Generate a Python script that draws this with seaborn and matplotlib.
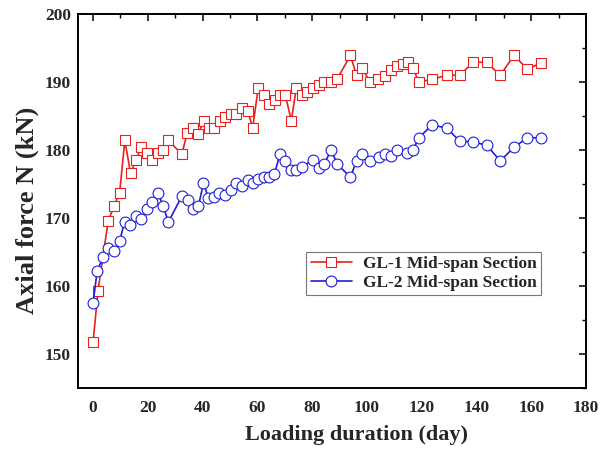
import matplotlib
matplotlib.use("Agg")
import matplotlib.pyplot as plt
from matplotlib.ticker import MultipleLocator
import seaborn as sns
import pandas as pd

# ---- data ----
gl1_day = [0, 1.8, 5.5, 7.7, 9.7, 11.6, 13.7, 15.7, 17.5, 19.6, 21.5, 23.6, 25.6, 27.5,
           32.4, 34.4, 36.4, 38.5, 40.4, 42.2, 44.2, 46.3, 48.2, 50.3, 52.2, 54.3, 56.4,
           58.3, 60.3, 62.4, 64.4, 66.3, 68.1, 70.2, 72.4, 74.2, 76.3, 78.2, 80.3, 82.5,
           84.3, 87.0, 89.2, 94.0, 96.2, 98.2, 101.1, 104.2, 106.6, 108.7, 111.0, 113.1,
           115.1, 116.8, 119.0, 123.8, 129.2, 133.9, 138.8, 143.7, 148.7, 153.7, 158.6, 163.6]
gl1_force = [151.7, 159.3, 169.5, 171.8, 173.7, 181.4, 176.6, 178.5, 180.4, 179.5, 178.5, 179.5, 180.0, 181.4,
             179.4, 182.5, 183.3, 182.4, 184.3, 183.3, 183.3, 184.3, 184.9, 185.3, 185.3, 186.2, 185.8,
             183.3, 189.1, 188.1, 186.7, 187.3, 188.1, 188.1, 184.3, 189.1, 188.1, 188.6, 189.1, 189.6,
             190.0, 190.0, 190.5, 193.9, 191.0, 192.1, 190.0, 190.5, 190.9, 191.8, 192.4, 192.6,
             193.0, 192.0, 190.0, 190.4, 191.0, 191.0, 192.9, 192.9, 191.0, 193.9, 191.9, 192.8]

gl2_day = [0, 1.5, 3.6, 5.6, 7.8, 9.7, 11.5, 13.6, 15.7, 17.6, 19.7, 21.5, 23.6, 25.6, 27.5,
           32.4, 34.5, 36.4, 38.5, 40.3, 42.1, 44.0, 46.1, 48.2, 50.3, 52.3, 54.3, 56.4, 58.3,
           60.3, 62.4, 64.4, 66.2, 68.3, 70.2, 72.3, 74.1, 76.2, 80.2, 82.5, 84.4, 86.9, 89.2,
           94.0, 96.2, 98.2, 101.0, 104.3, 106.5, 108.7, 111.1, 114.6, 116.8, 119.0, 123.8,
           129.2, 133.9, 138.8, 143.7, 148.7, 153.7, 158.6, 163.6]
gl2_force = [157.5, 162.2, 164.2, 165.6, 165.1, 166.6, 169.4, 168.9, 170.3, 169.9, 171.3, 172.3, 173.7, 171.8, 169.4,
             173.2, 172.7, 171.3, 171.8, 175.1, 173.0, 173.1, 173.7, 173.4, 174.1, 175.1, 174.7, 175.6, 175.1,
             175.7, 176.0, 176.1, 176.5, 179.4, 178.4, 177.1, 177.0, 177.5, 178.5, 177.3, 177.9, 180.0, 177.9,
             176.0, 178.4, 179.4, 178.4, 178.9, 179.4, 179.1, 180.0, 179.6, 180.0, 181.8, 183.7,
             183.2, 181.3, 181.2, 180.7, 178.4, 180.4, 181.8, 181.8]

series_names = ["GL-1 Mid-span Section", "GL-2 Mid-span Section"]
x_ticks = [0, 20, 40, 60, 80, 100, 120, 140, 160, 180]
y_ticks = [150, 160, 170, 180, 190, 200]

# ---- styling ----
sns.set_theme(style="white")
plt.rcParams["font.family"] = ["Liberation Serif", "DejaVu Serif"]
plt.rcParams["font.weight"] = "bold"

fig = plt.figure(figsize=(6.11, 4.5), dpi=100)
ax = fig.add_axes([78 / 611, 1 - 388 / 450, (586 - 78) / 611, (388 - 14) / 450])

red = "#e8201e"
blue = "#1e1ed8"

df1 = pd.DataFrame({"day": gl1_day, "force": gl1_force})
df2 = pd.DataFrame({"day": gl2_day, "force": gl2_force})

sns.lineplot(data=df1, x="day", y="force", ax=ax, color=red, lw=1.2,
             marker="s", markersize=7.2, markerfacecolor="white", markeredgecolor=red,
             markeredgewidth=0.8, label=series_names[0], sort=False)
sns.lineplot(data=df2, x="day", y="force", ax=ax, color=blue, lw=1.2,
             marker="o", markersize=7.8, markerfacecolor="white", markeredgecolor=blue,
             markeredgewidth=0.8, label=series_names[1], sort=False)

ax.set_xlim(-5.5, 180)
ax.set_ylim(145, 200)
ax.set_xticks(x_ticks)
ax.set_yticks(y_ticks)
ax.xaxis.set_minor_locator(MultipleLocator(10))
ax.yaxis.set_minor_locator(MultipleLocator(5))
ax.tick_params(which="both", direction="in", top=True, right=True, color="black")
ax.tick_params(which="major", length=5, width=1.1, labelsize=12.5)
ax.tick_params(axis="x", which="major", pad=9)
ax.tick_params(axis="y", which="major", pad=5)
ax.tick_params(which="minor", length=3, width=1.0)
for lab in ax.get_xticklabels() + ax.get_yticklabels():
    lab.set_fontweight("bold")

for s in ax.spines.values():
    s.set_color("black")
    s.set_linewidth(1.4)

ax.set_xlabel("Loading duration (day)", fontsize=16, fontweight="bold")
ax.set_ylabel("Axial force N (kN)", fontsize=19, fontweight="bold")
ax.xaxis.set_label_coords(0.549, -0.100)
ax.yaxis.set_label_coords(-0.077, 0.476)

leg = ax.legend(loc="upper right", bbox_to_anchor=(0.911, 0.364), fontsize=12.5,
                frameon=True, fancybox=False, handlelength=2.4, borderpad=0.25,
                labelspacing=0.12, handletextpad=0.6, borderaxespad=0)
leg.get_frame().set_edgecolor("#555555")
leg.get_frame().set_linewidth(0.8)
for t in leg.get_texts():
    t.set_fontweight("bold")

fig.savefig("out.png", dpi=100)
